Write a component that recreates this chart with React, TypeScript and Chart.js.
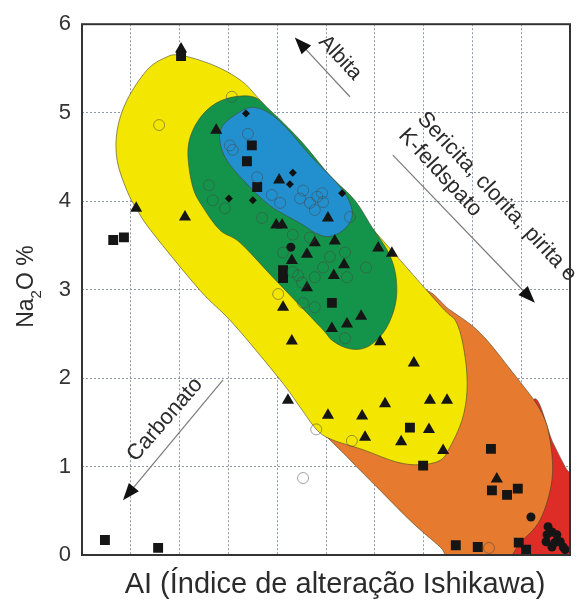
import React, { useEffect, useRef } from "react";
import { Chart, registerables } from "chart.js";

Chart.register(...registerables);

const FONT = '"Liberation Sans", Arial, Helvetica, sans-serif';

// Axis ranges / ticks
const xRange: [number, number] = [0, 100];
const yRange: [number, number] = [0, 6];
const yTickLabels = ["0", "1", "2", "3", "4", "5", "6"];

// Alteration zones (outline vertices in data units: AI, Na2O %)
const redZone: [number, number][] = [
  [92.5, 1.75], [96.5, 1.27], [99.4, 0.96], [101, 0.85], [101, -0.1], [84, -0.1], [90, 0.6],
];
const orangeZone: [number, number][] = [
  [69.3, 2.99], [75.4, 2.77], [81.6, 2.51], [88.3, 2.06], [93.9, 1.64], [95.9, 1.3], [96.3, 0.85],
  [93.9, 0.4], [89.8, 0.14], [86.3, -0.06], [76.0, -0.06], [73.4, 0.09], [67.8, 0.36], [61.1, 0.73],
  [54.3, 1.11], [48.2, 1.49], [50.8, 1.75], [61.1, 2.54],
];
const yellowZone: [number, number][] = [
  [20.1, 5.65], [26.8, 5.54], [32.4, 5.37], [36.5, 5.14], [48.8, 4.35], [61.1, 3.59], [73.4, 2.82],
  [76.8, 2.62], [78.5, 2.24], [78.9, 1.86], [77.9, 1.53], [75.4, 1.22], [73.4, 1.07], [69.3, 1.02],
  [64.5, 1.05], [57.6, 1.19], [51.4, 1.3], [48.2, 1.41], [44.7, 1.67], [40.6, 1.98], [30.9, 2.62],
  [24.2, 2.99], [14.5, 3.64], [11.3, 3.9], [9.2, 4.12], [7.2, 4.46], [7.2, 4.8], [9.2, 5.14],
  [13.3, 5.48], [17.0, 5.62],
];
const greenZone: [number, number][] = [
  [29.7, 5.16], [35.0, 5.18], [38.5, 5.03], [44.7, 4.69], [50.8, 4.29], [55.9, 4.01], [59.6, 3.69],
  [62.5, 3.45], [64.1, 3.22], [64.5, 2.96], [63.7, 2.73], [61.7, 2.51], [58.4, 2.35], [54.9, 2.33],
  [51.4, 2.42], [48.8, 2.58], [39.1, 3.14], [32.4, 3.53], [28.3, 3.67], [24.8, 3.93], [22.7, 4.16],
  [21.7, 4.54], [22.7, 4.8], [25.6, 5.03],
];
const blueZone: [number, number][] = [
  [28.7, 4.84], [31.8, 4.99], [35.0, 5.06], [38.5, 4.99], [42.0, 4.82], [46.7, 4.52], [52.3, 4.2],
  [54.9, 3.98], [55.3, 3.81], [53.5, 3.67], [50.8, 3.6], [48.2, 3.63], [44.7, 3.75], [38.5, 3.95],
  [33.0, 4.24], [29.7, 4.46], [28.3, 4.66],
];

// Samples
const triangles: [number, number][] = [
  [20.3, 5.72], [11.1, 3.92], [21.1, 3.82], [27.5, 4.8], [40.4, 4.24], [39.8, 3.73], [41.0, 3.73],
  [43.0, 3.33], [50.4, 3.81], [47.7, 3.53], [51.8, 3.55], [46.1, 3.4], [60.7, 3.47], [63.5, 3.41],
  [53.7, 3.28], [51.6, 3.16], [46.1, 3.02], [41.2, 2.8], [57.2, 2.7], [54.3, 2.61], [51.2, 2.56],
  [43.0, 2.42], [61.1, 2.41], [68.0, 2.17], [42.2, 1.75], [50.4, 1.58], [57.4, 1.57], [62.1, 1.71],
  [71.3, 1.75], [74.8, 1.75], [71.1, 1.42], [58.0, 1.33], [65.4, 1.28], [74.0, 1.18], [85.0, 0.86],
];
const squares: [number, number][] = [
  [20.3, 5.64], [6.4, 3.56], [8.6, 3.59], [34.8, 4.63], [33.8, 4.45], [35.9, 4.16], [41.2, 3.22],
  [41.2, 3.13], [51.2, 2.85], [67.2, 1.44], [69.9, 1.01], [83.8, 1.2], [84.0, 0.73], [87.1, 0.68],
  [89.3, 0.75], [76.6, 0.11], [81.1, 0.09], [89.5, 0.14], [91.0, 0.06], [4.7, 0.17], [15.6, 0.08],
];
const openCircles: [number, number][] = [
  [15.8, 4.86], [30.7, 5.18], [34.0, 4.76], [30.3, 4.63], [30.9, 4.58], [35.9, 4.27], [26.0, 4.18],
  [26.8, 4.01], [29.3, 3.92], [38.9, 4.07], [40.6, 3.98], [45.3, 4.12], [44.7, 4.03], [46.7, 3.98],
  [48.2, 4.05], [49.2, 4.09], [49.4, 3.99], [47.7, 3.9], [54.9, 3.82], [36.9, 3.81], [43.2, 3.62],
  [46.7, 3.59], [41.2, 3.42], [50.8, 3.37], [53.9, 3.42], [49.4, 3.25], [58.2, 3.25], [54.3, 3.14],
  [47.7, 3.14], [44.3, 3.16], [45.1, 3.08], [43.2, 3.2], [45.3, 2.85], [47.7, 2.8], [40.2, 2.95],
  [53.9, 2.45], [48.0, 1.42], [55.3, 1.29], [45.3, 0.87], [83.4, 0.08],
];
const diamonds: [number, number][] = [
  [33.6, 4.99], [43.2, 4.32], [42.6, 4.19], [30.1, 4.03], [35.0, 4.01], [53.3, 4.09],
];
const filledCircles: [number, number][] = [
  [42.8, 3.48], [92.0, 0.43], [95.5, 0.32], [95.3, 0.23], [96.3, 0.26], [97.3, 0.23], [96.9, 0.14],
  [98.0, 0.15], [98.6, 0.09], [99.0, 0.06], [95.1, 0.15], [96.3, 0.09],
];

const zones = [
  { pts: redZone, color: "#DE2D26" },
  { pts: orangeZone, color: "#E67A2E" },
  { pts: yellowZone, color: "#F3E600" },
  { pts: greenZone, color: "#13944A" },
  { pts: blueZone, color: "#2290CF" },
];

const toPts = (a: [number, number][]) => a.map(([x, y]) => ({ x, y }));

function smoothClosed(ctx: CanvasRenderingContext2D, p: number[][]) {
  const n = p.length;
  ctx.beginPath();
  ctx.moveTo(p[0][0], p[0][1]);
  for (let i = 0; i < n; i++) {
    const p0 = p[(i - 1 + n) % n], p1 = p[i], p2 = p[(i + 1) % n], p3 = p[(i + 2) % n];
    const c1x = p1[0] + (p2[0] - p0[0]) / 6, c1y = p1[1] + (p2[1] - p0[1]) / 6;
    const c2x = p2[0] - (p3[0] - p1[0]) / 6, c2y = p2[1] - (p3[1] - p1[1]) / 6;
    ctx.bezierCurveTo(c1x, c1y, c2x, c2y, p2[0], p2[1]);
  }
  ctx.closePath();
}

const zonePlugin = {
  id: "zones",
  beforeDatasetsDraw(chart: any) {
    const { ctx, chartArea: a, scales } = chart;
    const sx = scales.x, sy = scales.y;
    ctx.save();
    ctx.beginPath();
    ctx.rect(a.left, a.top, a.right - a.left, a.bottom - a.top);
    ctx.clip();
    for (const z of zones) {
      const pts = z.pts.map(([u, v]) => [sx.getPixelForValue(u), sy.getPixelForValue(v)]);
      smoothClosed(ctx, pts);
      ctx.fillStyle = z.color;
      ctx.fill();
      ctx.strokeStyle = "rgba(70,70,45,0.75)";
      ctx.lineWidth = 0.8;
      ctx.stroke();
    }
    ctx.restore();
  },
};

function arrow(ctx: CanvasRenderingContext2D, x0: number, y0: number, x1: number, y1: number) {
  const ang = Math.atan2(y1 - y0, x1 - x0);
  const L = 17, W = 6.5;
  ctx.strokeStyle = "#7a7a7a";
  ctx.lineWidth = 1.2;
  ctx.beginPath();
  ctx.moveTo(x0, y0);
  ctx.lineTo(x1 - Math.cos(ang) * L * 0.6, y1 - Math.sin(ang) * L * 0.6);
  ctx.stroke();
  ctx.fillStyle = "#111";
  ctx.beginPath();
  ctx.moveTo(x1, y1);
  const bx = x1 - Math.cos(ang) * L, by = y1 - Math.sin(ang) * L;
  ctx.lineTo(bx - Math.sin(ang) * W, by + Math.cos(ang) * W);
  ctx.lineTo(bx + Math.sin(ang) * W, by - Math.cos(ang) * W);
  ctx.closePath();
  ctx.fill();
}

function rotText(ctx: CanvasRenderingContext2D, text: string, x: number, y: number, deg: number, size: number) {
  ctx.save();
  ctx.translate(x, y);
  ctx.rotate((deg * Math.PI) / 180);
  ctx.font = `${size}px ${FONT}`;
  ctx.fillStyle = "#2b2b2b";
  ctx.textAlign = "center";
  ctx.textBaseline = "middle";
  ctx.fillText(text, 0, 0);
  ctx.restore();
}

const annotationPlugin = {
  id: "annotations",
  afterDraw(chart: any) {
    const { ctx, chartArea: a, scales } = chart;
    const px = (v: number) => scales.x.getPixelForValue(v);
    const py = (v: number) => scales.y.getPixelForValue(v);
    ctx.save();
    // arrows
    arrow(ctx, px(54.9), py(5.18), px(43.6), py(5.85));
    arrow(ctx, px(63.7), py(4.52), px(92.8), py(2.85));
    arrow(ctx, px(28.9), py(1.98), px(8.4), py(0.62));
    // labels
    rotText(ctx, "Albita", px(52.9), py(5.62), 47, 21);
    rotText(ctx, "Sericita, clorita, pirita e", px(85.0), py(4.05), 47, 22);
    rotText(ctx, "K-feldspato", px(73.4), py(4.32), 47, 22);
    rotText(ctx, "Carbonato", px(17.0), py(1.53), -49, 22);

    // frame
    ctx.strokeStyle = "#333";
    ctx.lineWidth = 2;
    ctx.strokeRect(a.left, a.top, a.right - a.left, a.bottom - a.top);

    // x title
    ctx.fillStyle = "#2b2b2b";
    ctx.font = `29px ${FONT}`;
    ctx.textAlign = "center";
    ctx.textBaseline = "alphabetic";
    ctx.fillText("AI (Índice de alteração Ishikawa)", (a.left + a.right) / 2 + 9, a.bottom + 38);

    // y title with subscript
    ctx.save();
    ctx.translate(33, (a.top + a.bottom) / 2 - 3);
    ctx.rotate(-Math.PI / 2);
    const big = `23px ${FONT}`, small = `15px ${FONT}`;
    ctx.font = big;
    const w1 = ctx.measureText("Na").width;
    const w3 = ctx.measureText("O %").width;
    ctx.font = small;
    const w2 = ctx.measureText("2").width;
    let x0 = -(w1 + w2 + w3) / 2;
    ctx.textAlign = "left";
    ctx.font = big;
    ctx.fillText("Na", x0, 0);
    ctx.font = small;
    ctx.fillText("2", x0 + w1, 8);
    ctx.font = big;
    ctx.fillText("O %", x0 + w1 + w2, 0);
    ctx.restore();

    ctx.restore();
  },
};

export default function App() {
  const ref = useRef<HTMLCanvasElement | null>(null);
  useEffect(() => {
    if (!ref.current) return;
    const gridColor = "#8f97aa";
    const chart = new Chart(ref.current, {
      type: "scatter",
      data: {
        datasets: [
          {
            label: "open",
            data: toPts(openCircles),
            pointStyle: "circle",
            pointRadius: 5.5,
            backgroundColor: "rgba(0,0,0,0)",
            borderColor: "rgba(70,70,70,0.5)",
            borderWidth: 1,
          },
          {
            label: "diamond",
            data: toPts(diamonds),
            pointStyle: "rectRot",
            pointRadius: 4,
            backgroundColor: "#111",
            borderColor: "#111",
            borderWidth: 0,
          },
          {
            label: "square",
            data: toPts(squares),
            pointStyle: "rect",
            pointRadius: 7,
            backgroundColor: "#151515",
            borderColor: "#151515",
            borderWidth: 0,
          },
          {
            label: "triangle",
            data: toPts(triangles),
            pointStyle: "triangle",
            pointRadius: 7,
            backgroundColor: "#151515",
            borderColor: "#151515",
            borderWidth: 0,
          },
          {
            label: "circle",
            data: toPts(filledCircles),
            pointStyle: "circle",
            pointRadius: 4.5,
            backgroundColor: "#151515",
            borderColor: "#151515",
            borderWidth: 0,
          },
        ],
      },
      options: {
        animation: false,
        responsive: false,
        events: [],
        layout: { padding: { top: 24, right: 14, left: 0, bottom: 0 } },
        plugins: { legend: { display: false }, tooltip: { enabled: false } },
        scales: {
          x: {
            type: "linear",
            min: xRange[0],
            max: xRange[1],
            ticks: { stepSize: 10, display: false },
            grid: { color: gridColor, lineWidth: 1, drawTicks: false },
            border: { display: false, dash: [2, 2] },
            afterFit: (s: any) => { s.height = 50; },
          },
          y: {
            type: "linear",
            min: yRange[0],
            max: yRange[1],
            ticks: {
              stepSize: 1,
              padding: 11,
              color: "#333",
              font: { size: 22, family: FONT },
              callback: (v: any) => yTickLabels[Number(v)] ?? "",
            },
            grid: { color: gridColor, lineWidth: 1, drawTicks: false },
            border: { display: false, dash: [2, 2] },
            afterFit: (s: any) => { s.width = 82; },
          },
        },
      },
      plugins: [zonePlugin, annotationPlugin],
    } as any);
    return () => chart.destroy();
  }, []);
  return (
    <div style={{ position: "fixed", left: 0, top: 0, width: 584, height: 605, background: "#fff" }}>
      <canvas ref={ref} width={584} height={605} style={{ width: 584, height: 605 }} />
    </div>
  );
}
